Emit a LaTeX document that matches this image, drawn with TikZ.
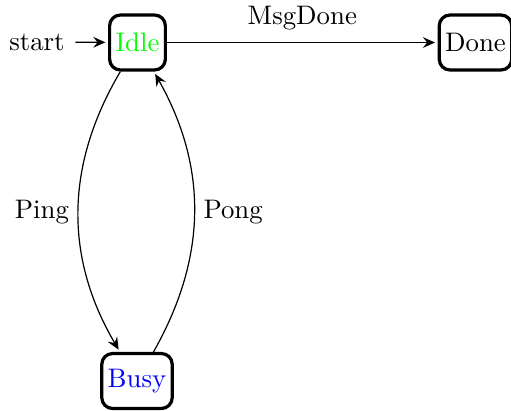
\documentclass[tikz,border=0pt]{standalone}
\usetikzlibrary{arrows.meta}
\begin{document}
\begin{tikzpicture}[x=0.3731pt,y=-0.3731pt,
  statebox/.style={draw,line width=1.2pt,rounded corners=4pt,minimum height=20.5pt,inner xsep=2.2pt},
  edge/.style={-{Stealth[length=4.5pt,width=4pt,inset=1.6pt]},line width=0.45pt,shorten >=1pt}]
  \useasboundingbox (0,0) rectangle (511,410);
  \node[statebox,text=green] (idle) at (137.5,42.5) {Idle};
  \node[statebox] (done) at (475.5,42.5) {Done};
  \node[statebox,text=blue] (busy) at (137,381) {Busy};
  \node[inner sep=3.8pt] (start) at (37,42) {start};
  \draw[edge] (start) -- (idle);
  \draw[edge] (idle) -- node[above=1pt] (lmsg) {MsgDone} (done);
  \draw[edge] (idle) to[bend right=30.5] node[left] (lping) {Ping} (busy);
  \draw[edge] (busy) to[bend right=29.5] node[right] (lpong) {Pong} (idle);
\end{tikzpicture}
\end{document}
